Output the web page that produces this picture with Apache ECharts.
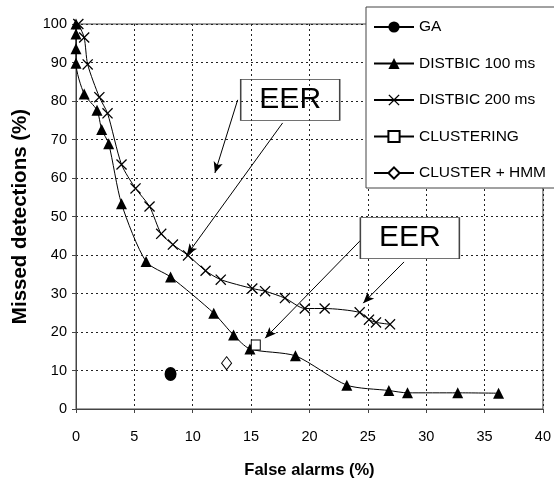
<!DOCTYPE html>
<html>
<head>
<meta charset="utf-8">
<script src="https://cdn.jsdelivr.net/npm/echarts@6/dist/echarts.min.js"></script>
<style>
  html, body { margin: 0; padding: 0; background: #fff; }
  #chart { width: 554px; height: 489px; }
</style>
</head>
<body>
<div id="chart"></div>
<script>
// Detection error trade-off: false alarms vs missed detections, in %
const seriesNames = ['GA', 'DISTBIC 100 ms', 'DISTBIC 200 ms', 'CLUSTERING', 'CLUSTER + HMM'];

const gaPoint = [[8.1, 9.1]];
const distbic100 = [
  [0, 100], [0, 97.4], [0, 93.6], [0, 89.8], [0.7, 81.8], [1.8, 77.6], [2.2, 72.6],
  [2.8, 68.9], [3.9, 53.3], [6.0, 38.3], [8.1, 34.3], [11.8, 24.9], [13.5, 19.2],
  [14.9, 15.6], [18.8, 13.8], [23.2, 6.2], [26.8, 4.8], [28.4, 4.2], [32.7, 4.2], [36.2, 4.1]
];
const distbic200 = [
  [0.2, 100], [0.7, 96.5], [1.0, 89.5], [2.0, 81.0], [2.7, 76.8], [3.9, 63.5], [5.1, 57.3],
  [6.3, 52.6], [7.3, 45.5], [8.3, 42.7], [9.6, 39.9], [11.1, 35.9], [12.4, 33.6],
  [15.1, 31.3], [16.2, 30.6], [17.9, 28.8], [19.6, 26.1], [21.3, 26.1], [24.3, 25.1],
  [25.1, 23.2], [25.7, 22.5], [26.9, 22.0]
];
const clusteringPoint = [[15.4, 16.6]];
const clusterHmmPoint = [[12.9, 11.9]];

// "EER" call-outs: box centres and arrows (start -> tip), in data units
const eerBoxes = [
  { at: [18.35, 80.3], opaque: false },
  { at: [28.6, 44.4], opaque: true }
];
const eerArrows = [
  [[13.85, 80.3], [11.9, 61.3]],
  [[17.7, 74.3], [9.5, 40.0]],
  [[24.5, 44.2], [16.2, 18.4]],
  [[28.1, 38.2], [24.6, 27.5]]
];

const xMin = 0, xMax = 40, xStep = 5;
const yMin = 0, yMax = 100, yStep = 10;

const sans = "'Liberation Sans', Arial, sans-serif";
const ink = '#000';
const frame = '#444';

const crossPath = 'path://M0,1L1,0L6,5L11,0L12,1L7,6L12,11L11,12L6,7L1,12L0,11L5,6Z';

const chart = echarts.init(document.getElementById('chart'), null, { renderer: 'canvas' });

function baseSeries(name, data, symbol, size, fill) {
  return {
    name: name,
    type: 'line',
    data: data,
    symbol: symbol,
    symbolSize: size,
    showSymbol: true,
    smooth: 0.25,
    lineStyle: { color: ink, width: 1 },
    itemStyle: { color: fill, borderColor: ink, borderWidth: fill === '#fff' ? 1 : 0 },
    emphasis: { disabled: true },
    animation: false,
    z: 3
  };
}

const s200 = baseSeries(seriesNames[2], distbic200, crossPath, 11, ink);
s200.markLine = {
  silent: true,
  symbol: ['none', 'arrow'],
  symbolSize: [7, 11],
  label: { show: false },
  lineStyle: { color: ink, width: 1, type: 'solid' },
  data: eerArrows.map(a => [{ coord: a[0] }, { coord: a[1] }]),
  animation: false
};
s200.markPoint = {
  silent: true,
  symbol: 'rect',
  symbolSize: [99, 41],
  label: {
    show: true, position: 'inside', formatter: 'EER',
    fontFamily: sans, fontSize: 30, lineHeight: 30, padding: [3, 0, 0, 0], color: ink
  },
  data: eerBoxes.map(b => ({
    coord: b.at,
    itemStyle: { color: b.opaque ? '#fff' : 'rgba(255,255,255,0)', borderColor: frame, borderWidth: 1 }
  })),
  animation: false
};

const option = {
  backgroundColor: '#fff',
  animation: false,
  grid: {
    left: 76, right: 7, top: 24, bottom: 80,
    show: true, borderColor: frame, borderWidth: 1, backgroundColor: 'transparent'
  },
  legend: {
    orient: 'vertical',
    left: 366, top: 7,
    padding: [10, 9, 5, 7],
    itemWidth: 40, itemHeight: 14, itemGap: 16.5,
    backgroundColor: '#fff',
    borderColor: frame, borderWidth: 1,
    textStyle: { fontFamily: sans, fontSize: 15.5, lineHeight: 20, color: ink },
    data: seriesNames,
    selectedMode: false
  },
  xAxis: {
    type: 'value', min: xMin, max: xMax, interval: xStep,
    name: 'False alarms (%)', nameLocation: 'middle', nameGap: 53,
    nameTextStyle: { fontFamily: sans, fontSize: 16.5, fontWeight: 'bold', color: ink },
    axisLine: { show: true, lineStyle: { color: frame, width: 1 } },
    axisTick: { show: true, length: 4, lineStyle: { color: frame } },
    axisLabel: { fontFamily: sans, fontSize: 14.5, color: ink, margin: 20 },
    splitLine: { show: true, lineStyle: { color: '#222', type: [2, 3], width: 1 } }
  },
  yAxis: {
    type: 'value', min: yMin, max: yMax, interval: yStep,
    name: 'Missed detections (%)', nameLocation: 'middle', nameGap: 45, nameRotate: 90,
    nameTextStyle: { fontFamily: sans, fontSize: 20.5, fontWeight: 'bold', color: ink },
    axisLine: { show: true, lineStyle: { color: frame, width: 1 } },
    axisTick: { show: true, length: 4, lineStyle: { color: frame } },
    axisLabel: { fontFamily: sans, fontSize: 14.5, color: ink, margin: 9 },
    splitLine: { show: true, lineStyle: { color: '#222', type: [2, 3], width: 1 } }
  },
  series: [
    baseSeries(seriesNames[0], gaPoint, 'circle', [12, 14], ink),
    baseSeries(seriesNames[1], distbic100, 'triangle', 11, ink),
    s200,
    baseSeries(seriesNames[3], clusteringPoint, 'rect', [9, 10], '#fff'),
    baseSeries(seriesNames[4], clusterHmmPoint, 'diamond', [10, 13], '#fff')
  ]
};

chart.setOption(option);
</script>
</body>
</html>
